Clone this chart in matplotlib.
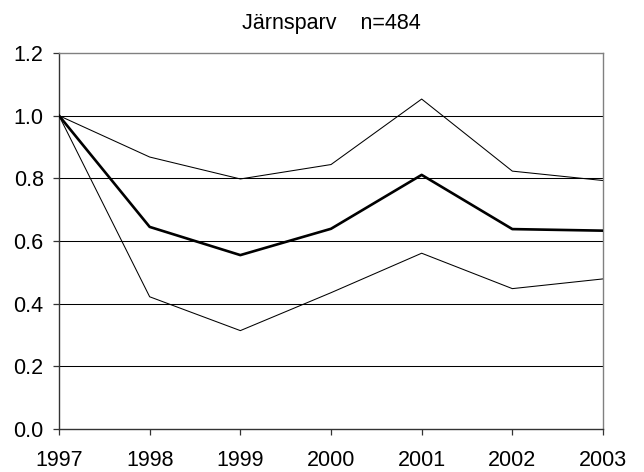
import matplotlib
matplotlib.use("Agg")
import matplotlib.pyplot as plt

plt.rcParams["font.family"] = ["Liberation Sans", "DejaVu Sans"]

YEARS = [1997, 1998, 1999, 2000, 2001, 2002, 2003]
UPPER = [1.0, 0.868, 0.798, 0.844, 1.053, 0.823, 0.793]
INDEX = [1.0, 0.645, 0.555, 0.639, 0.811, 0.638, 0.633]
LOWER = [1.0, 0.422, 0.314, 0.435, 0.561, 0.448, 0.479]
Y_TICKS = [0.0, 0.2, 0.4, 0.6, 0.8, 1.0, 1.2]
TITLE = "Järnsparv    n=484"


def main():
    fig = plt.figure(figsize=(6.44, 4.72), dpi=100)
    ax = fig.add_axes([59 / 644, 43 / 472, 544 / 644, 376 / 472])

    for y in Y_TICKS[1:-1]:
        ax.axhline(y, color="black", linewidth=0.75, zorder=1)

    ax.plot(YEARS, UPPER, color="black", linewidth=0.75, zorder=2)
    ax.plot(YEARS, LOWER, color="black", linewidth=0.75, zorder=2)
    ax.plot(YEARS, INDEX, color="black", linewidth=1.9, zorder=3)

    ax.set_xlim(YEARS[0], YEARS[-1])
    ax.set_ylim(0, 1.2)
    ax.set_xticks(YEARS)
    ax.set_yticks(Y_TICKS)
    ax.set_yticklabels([f"{v:.1f}" for v in Y_TICKS])

    ax.tick_params(axis="both", direction="out", length=4, width=0.9, colors="#333333",
                   labelcolor="black", labelsize=15.5)
    ax.tick_params(axis="x", pad=11)
    ax.tick_params(axis="y", pad=7)

    for side in ("left", "bottom"):
        ax.spines[side].set_color("#333333")
        ax.spines[side].set_linewidth(1.0)
    for side in ("top", "right"):
        ax.spines[side].set_color("#808080")
        ax.spines[side].set_linewidth(1.0)

    ax.set_title(TITLE, fontsize=15.5, pad=17)

    fig.savefig("out.png", dpi=100)


if __name__ == "__main__":
    main()
